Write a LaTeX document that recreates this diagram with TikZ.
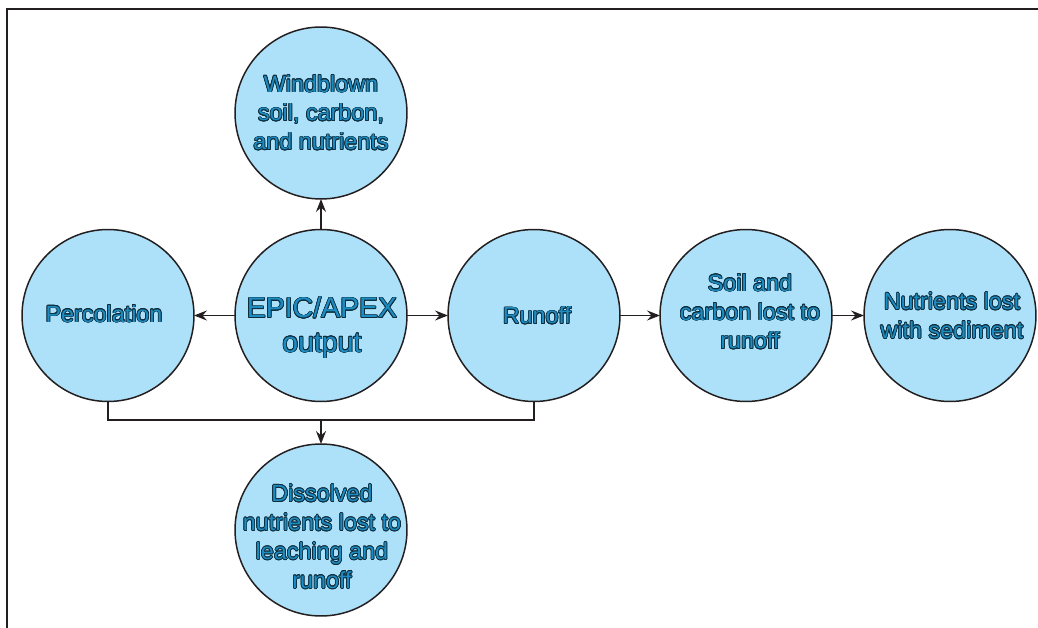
\documentclass[tikz,border=0pt]{standalone}
\usepackage{fontspec}
\setmainfont{Liberation Sans}
\usepackage[copies]{contour}
\contourlength{0.4pt}
\contournumber{16}
\usetikzlibrary{arrows.meta}
\definecolor{circfill}{HTML}{ADE1F9}
\definecolor{txtfill}{HTML}{1D8CC2}
\definecolor{txtline}{HTML}{0F2E3D}
\definecolor{linecol}{HTML}{231F20}
\newcommand{\otext}[1]{\contour{txtline}{\textcolor{txtfill}{#1}}}
\tikzset{
  bubble/.style={circle, draw=linecol, line width=0.85pt, fill=circfill, minimum size=3.44cm, inner sep=0pt, outer sep=0pt},
  btext/.style={align=center, inner sep=0pt, font=\fontsize{13.3}{16.5}\selectfont},
  conn/.style={draw=linecol, line width=0.85pt, -{Stealth[length=2.6mm,width=2mm,inset=0.9mm]}},
  plain/.style={draw=linecol, line width=0.85pt}
}
\begin{document}
\begin{tikzpicture}[x=0.02cm,y=-0.02cm]
\useasboundingbox (0,0) rectangle (1038,628);
\draw[linecol, line width=1.1pt] (7,628) -- (7,9) -- (1038,9);
\node[bubble] (W) at (321,113) {};
\node[bubble] (P) at (108,315.5) {};
\node[bubble] (E) at (321,315.5) {};
\node[bubble] (R) at (534,315.5) {};
\node[bubble] (S) at (746,315.5) {};
\node[bubble] (N) at (950,315.5) {};
\node[bubble] (D) at (321,530) {};
\node[btext] (Wt) at (321,113) {\otext{Windblown}\\\otext{soil, carbon,}\\\otext{and nutrients}};
\node[btext] (Pt) at (104,314) {\otext{Percolation}};
\node[btext, font=\fontsize{16.2}{19.5}\selectfont] (Et) at (322,328) {\otext{EPIC/APEX}\\\otext{output}};
\node[btext] (Rt) at (537,316) {\otext{Runoff}};
\node[btext] (St) at (750,312) {\otext{Soil and}\\\otext{carbon lost to}\\\otext{runoff}};
\node[btext] (Nt) at (952,316) {\otext{Nutrients lost}\\\otext{with sediment}};
\node[btext] (Dt) at (322,537) {\otext{Dissolved}\\\otext{nutrients lost to}\\\otext{leaching and}\\\otext{runoff}};
\draw[conn] (E) -- (W);
\draw[conn] (E) -- (P);
\draw[conn] (E) -- (R);
\draw[conn] (R) -- (S);
\draw[conn] (S) -- (N);
\coordinate (J) at (321,420);
\draw[plain] (P.south) |- (J) -| (R.south);
\draw[conn] (J) -- (D);
\end{tikzpicture}
\end{document}
